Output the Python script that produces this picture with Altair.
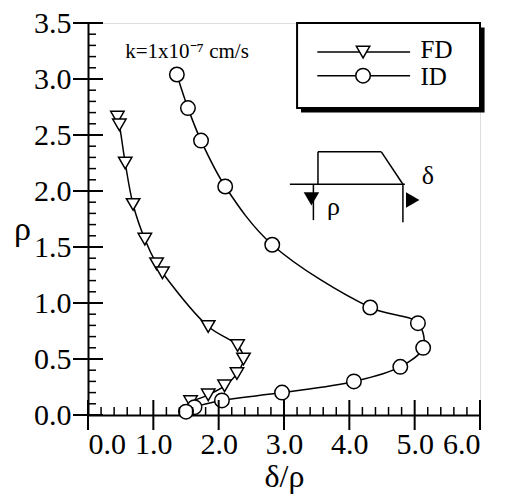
import altair as alt
import pandas as pd
import numpy as np

# ---- data ----
fd_x = [0.45, 0.48, 0.57, 0.69, 0.87, 1.05, 1.14, 1.84, 2.29, 2.38, 2.28, 2.09, 1.84, 1.57]
fd_y = [2.66, 2.59, 2.25, 1.88, 1.57, 1.35, 1.27, 0.79, 0.62, 0.50, 0.37, 0.26, 0.18, 0.12]
id_x = [1.36, 1.53, 1.73, 2.10, 2.82, 4.32, 5.05, 5.13, 4.78, 4.07, 2.97, 2.05, 1.63, 1.50]
id_y = [3.04, 2.74, 2.45, 2.04, 1.52, 0.96, 0.82, 0.60, 0.43, 0.30, 0.20, 0.13, 0.07, 0.03]

x_major = [0, 1, 2, 3, 4, 5, 6]
y_major = [0, 0.5, 1, 1.5, 2, 2.5, 3, 3.5]

FONT = "Liberation Serif"
W, H = 392, 392

fd = pd.DataFrame({"x": fd_x, "y": fd_y, "i": range(len(fd_x))})
idd = pd.DataFrame({"x": id_x, "y": id_y, "i": range(len(id_x))})

xs = alt.Scale(domain=[0, 6], nice=False, zero=False)
ys = alt.Scale(domain=[0, 3.5], nice=False, zero=False)

X = lambda f="x": alt.X(f, type="quantitative", scale=xs,
                        axis=alt.Axis(values=x_major, format=".1f", ticks=False, tickSize=0,
                                      grid=False, labelFont=FONT, labelFontSize=30,
                                      labelColor="black", labelPadding=14, domainColor="black",
                                      domainWidth=2, title="δ/ρ", titleFont=FONT,
                                      titleFontSize=32, titleFontWeight="normal",
                                      titleColor="black", titlePadding=2))
Y = lambda f="y": alt.Y(f, type="quantitative", scale=ys,
                        axis=alt.Axis(values=y_major, format=".1f", ticks=False, tickSize=0,
                                      grid=False, labelFont=FONT, labelFontSize=30,
                                      labelColor="black", labelPadding=17, domainColor="black",
                                      domainWidth=2, title="ρ", titleFont=FONT,
                                      titleFontSize=34, titleFontWeight="normal",
                                      titleColor="black", titleAngle=0, titleX=-66,
                                      titleY=206, titleAlign="center",
                                      titleBaseline="middle"))

# ticks
xmaj = pd.DataFrame({"x": x_major})
xmin = pd.DataFrame({"x": [v for v in np.round(np.arange(0, 6.01, 0.2), 2) if abs(v - round(v)) > 1e-6]})
ymaj = pd.DataFrame({"y": y_major})
ymin = pd.DataFrame({"y": [v for v in np.round(np.arange(0, 3.51, 0.1), 2) if abs(v * 2 - round(v * 2)) > 1e-6]})

t1 = alt.Chart(xmaj).mark_rule(color="black", strokeWidth=2).encode(x=X(), y=alt.value(H - 15), y2=alt.value(H + 15))
t2 = alt.Chart(xmin).mark_rule(color="black", strokeWidth=1.5).encode(x=X(), y=alt.value(H - 8), y2=alt.value(H))
t3 = alt.Chart(ymaj).mark_rule(color="black", strokeWidth=2).encode(y=Y(), x=alt.value(-15), x2=alt.value(15))
t4 = alt.Chart(ymin).mark_rule(color="black", strokeWidth=1.5).encode(y=Y(), x=alt.value(0), x2=alt.value(8))

# series
fd_line = alt.Chart(fd).mark_line(interpolate="catmull-rom", color="black", strokeWidth=1.5).encode(x=X(), y=Y(), order="i:Q")
id_line = alt.Chart(idd).mark_line(interpolate="catmull-rom", color="black", strokeWidth=1.5).encode(x=X(), y=Y(), order="i:Q")
fd_pts = alt.Chart(fd).mark_point(shape="triangle-down", filled=True, fill="white", stroke="black",
                                  strokeWidth=1.5, size=180, opacity=1).encode(x=X(), y=Y())
id_pts = alt.Chart(idd).mark_point(shape="circle", filled=True, fill="white", stroke="black",
                                   strokeWidth=1.5, size=210, opacity=1).encode(x=X(), y=Y())

# legend box
shadow = alt.Chart(pd.DataFrame({"x": [3.26], "x2": [6.07], "y": [2.70], "y2": [3.46]})).mark_rect(
    color="black").encode(x=X(), x2="x2", y=Y(), y2="y2")
box = alt.Chart(pd.DataFrame({"x": [3.2], "x2": [6.0], "y": [2.74], "y2": [3.5]})).mark_rect(
    fill="white", stroke="black", strokeWidth=2).encode(x=X(), x2="x2", y=Y(), y2="y2")
leg_lines = alt.Chart(pd.DataFrame({"x": [3.51, 3.51], "x2": [4.93, 4.93], "y": [3.24, 3.03]})).mark_rule(
    color="black", strokeWidth=1.5).encode(x=X(), x2="x2", y=Y())
leg_tri = alt.Chart(pd.DataFrame({"x": [4.21], "y": [3.24]})).mark_point(
    shape="triangle-down", filled=True, fill="white", stroke="black", strokeWidth=1.5, size=180, opacity=1).encode(x=X(), y=Y())
leg_cir = alt.Chart(pd.DataFrame({"x": [4.21], "y": [3.03]})).mark_point(
    shape="circle", filled=True, fill="white", stroke="black", strokeWidth=1.5, size=210, opacity=1).encode(x=X(), y=Y())
leg_txt = alt.Chart(pd.DataFrame({"x": [5.09, 5.09], "y": [3.26, 3.02], "t": ["FD", "ID"]})).mark_text(
    font=FONT, fontSize=25, align="left", baseline="middle", color="black").encode(x=X(), y=Y(), text="t:N")

k_txt = alt.Chart(pd.DataFrame({"x": [0.57], "y": [3.19], "t": ["k=1x10⁻⁷ cm/s"]})).mark_text(
    font=FONT, fontSize=21, align="left", baseline="alphabetic", color="black").encode(x=X(), y=Y(), text="t:N")

# schematic inset
seg = pd.DataFrame({
    "x":  [3.09, 3.52, 3.52, 4.49, 4.82, 3.45],
    "y":  [2.06, 2.06, 2.35, 2.35, 2.06, 2.06],
    "x2": [4.85, 3.52, 4.49, 4.82, 4.82, 3.45],
    "y2": [2.06, 2.35, 2.35, 2.06, 1.72, 1.74],
})
sch = alt.Chart(seg).mark_rule(color="black", strokeWidth=1.5).encode(x=X(), y=Y(), x2="x2", y2="y2")
arr_d = alt.Chart(pd.DataFrame({"x": [3.42], "y": [1.93]})).mark_point(
    shape="triangle-down", filled=True, color="black", size=240, opacity=1).encode(x=X(), y=Y())
arr_r = alt.Chart(pd.DataFrame({"x": [4.97], "y": [1.92]})).mark_point(
    shape="triangle-right", filled=True, color="black", size=240, opacity=1).encode(x=X(), y=Y())
sch_txt = alt.Chart(pd.DataFrame({"x": [5.11, 3.66], "y": [2.13, 1.86], "t": ["δ", "ρ"]})).mark_text(
    font=FONT, fontSize=26, align="left", baseline="middle", color="black").encode(x=X(), y=Y(), text="t:N")

chart = alt.layer(
    fd_line, id_line, fd_pts, id_pts, t1, t2, t3, t4,
    shadow, box, leg_lines, leg_tri, leg_cir, leg_txt, k_txt,
    sch, arr_d, arr_r, sch_txt,
).properties(
    width=W, height=H, autosize="none",
    padding={"left": 80, "top": 15, "right": 17, "bottom": 81},
).configure_view(stroke="black", strokeWidth=2).configure(
    background="white", font=FONT
).configure_axis(labelFont=FONT, titleFont=FONT)

chart.save("out.html", embed_options={"renderer": "svg", "actions": False})
